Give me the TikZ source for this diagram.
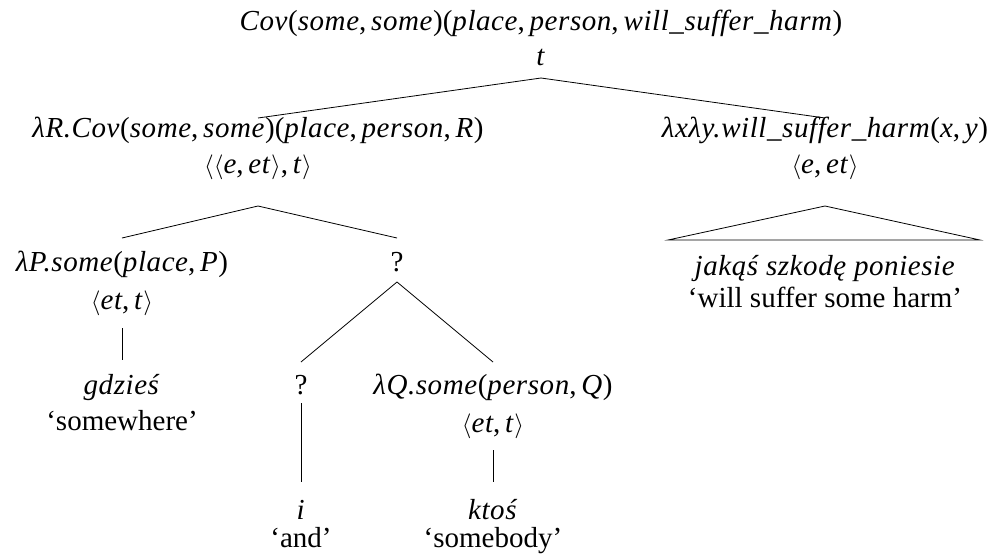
\documentclass[tikz,border=0pt]{standalone}
\usepackage{fontspec}
\setmainfont{Liberation Serif}[ItalicFont={Liberation Serif Italic},ItalicFeatures={LetterSpace=2}]
\begin{document}
\begin{tikzpicture}[x=1pt,y=-1pt,
  lbl/.style={inner sep=0pt,anchor=base,font=\fontsize{29}{34}\selectfont},
  edge/.style={line width=0.8pt}]
\useasboundingbox (0,0) rectangle (999,555);
\newcommand{\tv}[1]{\textit{#1}}
\newcommand{\la}{$\langle$}
\newcommand{\ra}{$\rangle$}
% root
\node[lbl] (r1) at (541,30) {\tv{Cov}(\tv{some},\,\tv{some})(\tv{place},\,\tv{person},\,\tv{will\_suffer\_harm})};
\node[lbl] (r2) at (541,65) {\tv{t}};
% A
\node[lbl] (a1) at (258,137) {\tv{λR.Cov}(\tv{some},\,\tv{some})(\tv{place},\,\tv{person},\,\tv{R})};
\node[lbl] (a2) at (258,173) {\la\la\tv{e},\,\tv{et}\ra,\,\tv{t}\ra};
% B
\node[lbl] (b1) at (825,137) {\tv{λxλy.will\_suffer\_harm}(\tv{x},\,\tv{y})};
\node[lbl] (b2) at (825,173) {\la\tv{e},\,\tv{et}\ra};
\node[lbl] (b3) at (825,275) {\tv{jakąś szkodę poniesie}};
\node[lbl] (b4) at (825,307) {‘will suffer some harm’};
% C
\node[lbl] (c1) at (122,271) {\tv{λP.some}(\tv{place},\,\tv{P})};
\node[lbl] (c2) at (122,309) {\la\tv{et},\,\tv{t}\ra};
\node[lbl] (c3) at (122,394) {\tv{gdzieś}};
\node[lbl] (c4) at (122,430) {‘somewhere’};
% D
\node[lbl] (d1) at (397,271) {?};
\node[lbl] (dl1) at (301,394) {?};
\node[lbl] (dl2) at (301,519) {\tv{i}};
\node[lbl] (dl3) at (301,547) {‘and’};
\node[lbl] (dr1) at (493,394) {\tv{λQ.some}(\tv{person},\,\tv{Q})};
\node[lbl] (dr2) at (493,432) {\la\tv{et},\,\tv{t}\ra};
\node[lbl] (dr3) at (493,519) {\tv{ktoś}};
\node[lbl] (dr4) at (493,547) {‘somebody’};
% edges
\draw[edge] ([yshift=-13pt]r2.base) -- ([yshift=19pt]a1.base);
\draw[edge] ([yshift=-13pt]r2.base) -- ([yshift=19pt]b1.base);
\draw[edge] ([yshift=-33pt]a2.base) -- ([yshift=33pt]c1.base);
\draw[edge] ([yshift=-33pt]a2.base) -- ([yshift=33pt]d1.base);
\draw[edge] ([yshift=-33pt]b2.base) -- ([xshift=-157pt,yshift=35pt]b3.base) -- ([xshift=155pt,yshift=35pt]b3.base) -- cycle;
\draw[edge] ([yshift=-19pt]c2.base) -- ([yshift=34pt]c3.base);
\draw[edge] ([yshift=-11pt]d1.base) -- ([yshift=32pt]dl1.base);
\draw[edge] ([yshift=-11pt]d1.base) -- ([yshift=32pt]dr1.base);
\draw[edge] ([yshift=-9pt]dl1.base) -- ([yshift=37pt]dl2.base);
\draw[edge] ([yshift=-18pt]dr2.base) -- ([yshift=37pt]dr3.base);
\end{tikzpicture}
\end{document}
